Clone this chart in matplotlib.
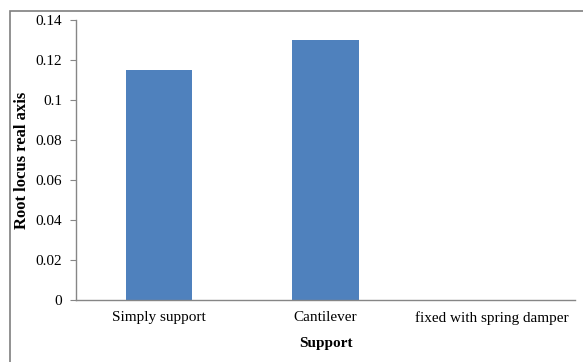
import matplotlib
matplotlib.use('Agg')
import matplotlib.pyplot as plt
from matplotlib.patches import Rectangle

BAR_COLOR = '#4f81bd'
AXIS_COLOR = '#868686'
TEXT_COLOR = '#000000'

categories = ['Simply support', 'Cantilever', 'fixed with spring damper']
values = [0.115, 0.13, 0.0]
yticks = [0, 0.02, 0.04, 0.06, 0.08, 0.1, 0.12, 0.14]
ytick_labels = ['0', '0.02', '0.04', '0.06', '0.08', '0.1', '0.12', '0.14']

plt.rcParams['font.family'] = ['Liberation Serif', 'DejaVu Serif']

fig = plt.figure(figsize=(5.83, 3.62), dpi=100)
fig.patch.set_facecolor('white')

# outer chart frame (cropped on right and bottom)
fig.patches.append(Rectangle((10 / 583, -0.1), 1.2, 1 - 10.5 / 362 + 0.1,
                             transform=fig.transFigure, fill=False,
                             edgecolor='#7f7f7f', linewidth=1.2))

ax = fig.add_axes([76 / 583, 1 - 300 / 362, (575 - 76) / 583, (300 - 20) / 362])
xs = range(len(categories))
ax.bar(xs, values, width=0.4, color=BAR_COLOR)

ax.set_xlim(-0.5, len(categories) - 0.5)
ax.set_ylim(0, 0.14)
ax.set_yticks(yticks)
ax.set_yticklabels(ytick_labels, fontsize=11)
ax.set_xticks(list(xs))
ax.set_xticklabels(categories, fontsize=11)
ax.tick_params(axis='x', length=0, pad=8)
ax.tick_params(axis='y', length=4, color=AXIS_COLOR, pad=6)

for side in ['top', 'right']:
    ax.spines[side].set_visible(False)
for side in ['left', 'bottom']:
    ax.spines[side].set_color(AXIS_COLOR)
    ax.spines[side].set_linewidth(1.0)

ax.set_xlabel('Support', fontsize=11, fontweight='bold', labelpad=9)
ax.set_ylabel('Root locus real axis', fontsize=12, fontweight='bold')
ax.yaxis.set_label_coords((30 - 76) / 499, 0.5)

fig.savefig('out.png', dpi=100)
